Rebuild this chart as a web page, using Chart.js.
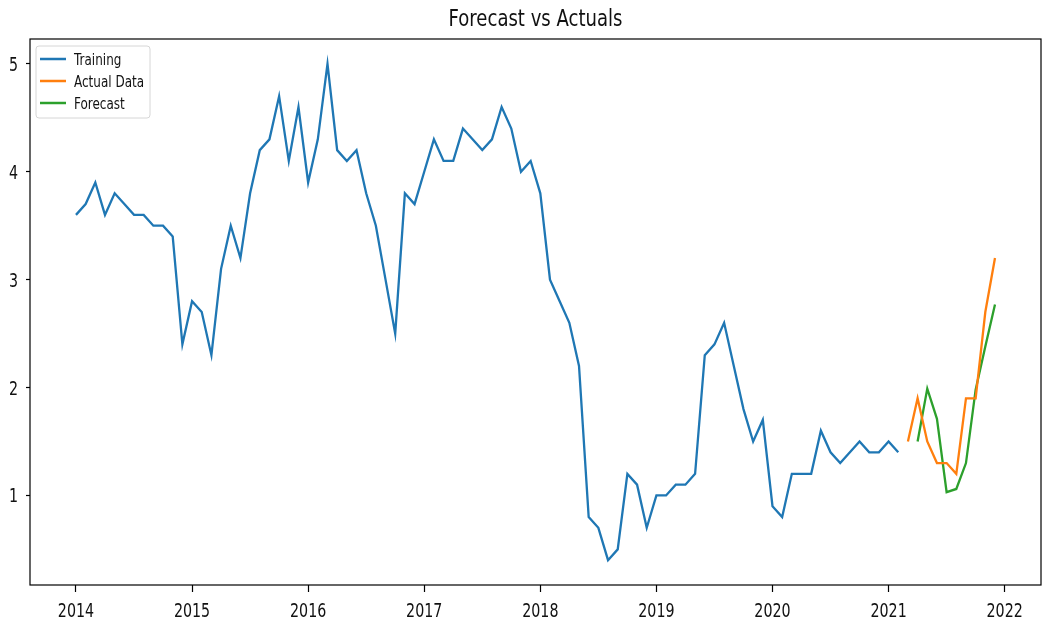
<!DOCTYPE html>
<html>
<head>
<meta charset="utf-8">
<title>Forecast vs Actuals</title>
<script src="https://cdn.jsdelivr.net/npm/chart.js@4.4.1/dist/chart.umd.min.js"></script>
<style>
  html, body { margin: 0; padding: 0; background: #fff; }
  #wrap { width: 1043px; height: 623px; }
</style>
</head>
<body>
<div id="wrap"><canvas id="fc" width="1043" height="623"></canvas></div>
<script>
'use strict';

/* ── Series (monthly values) ─────────────────────────────────────────────── */

// Training: Jan 2014 .. Feb 2021
const TRAIN_START = [2014, 1];
const trainingValues = [
    3.6, 3.7, 3.9, 3.6, 3.8, 3.7, 3.6, 3.6, 3.5, 3.5, 3.4, 2.4,   // 2014
    2.8, 2.7, 2.3, 3.1, 3.5, 3.2, 3.8, 4.2, 4.3, 4.7, 4.1, 4.6,   // 2015
    3.9, 4.3, 5.0, 4.2, 4.1, 4.2, 3.8, 3.5, 3.0, 2.5, 3.8, 3.7,   // 2016
    4.0, 4.3, 4.1, 4.1, 4.4, 4.3, 4.2, 4.3, 4.6, 4.4, 4.0, 4.1,   // 2017
    3.8, 3.0, 2.8, 2.6, 2.2, 0.8, 0.7, 0.4, 0.5, 1.2, 1.1, 0.7,   // 2018
    1.0, 1.0, 1.1, 1.1, 1.2, 2.3, 2.4, 2.6, 2.2, 1.8, 1.5, 1.7,   // 2019
    0.9, 0.8, 1.2, 1.2, 1.2, 1.6, 1.4, 1.3, 1.4, 1.5, 1.4, 1.4,   // 2020
    1.5, 1.4,                                                     // 2021
];

// Actual data: Mar 2021 .. Dec 2021
const ACTUAL_START = [2021, 3];
const actualValues = [1.5, 1.9, 1.5, 1.3, 1.3, 1.2, 1.9, 1.9, 2.7, 3.2];

// Forecast: Apr 2021 .. Dec 2021
const FORECAST_START = [2021, 4];
const forecastValues = [1.50, 1.99, 1.71, 1.03, 1.06, 1.30, 1.98, 2.38, 2.77];

const xTicks = [2014, 2015, 2016, 2017, 2018, 2019, 2020, 2021, 2022];
const yTicks = [1, 2, 3, 4, 5];

const COLORS = { blue: '#1f77b4', orange: '#ff7f0e', green: '#2ca02c' };
const FONT = '"DejaVu Sans", sans-serif';
const SQUEEZE = 0.75;   // text is drawn narrow, as in the saved figure

/* ── Helpers ─────────────────────────────────────────────────────────────── */

// month index -> fractional year, so the x axis can stay linear
function toPoints(start, values) {
    return values.map((v, i) => ({ x: start[0] + (start[1] - 1 + i) / 12, y: v }));
}

function narrowText(ctx, text, x, y, size, align, sx) {
    ctx.save();
    ctx.translate(x, y);
    ctx.scale(sx || SQUEEZE, 1);
    ctx.font = size + 'px ' + FONT;
    ctx.textAlign = align;
    ctx.textBaseline = 'alphabetic';
    ctx.fillText(text, 0, 0);
    ctx.restore();
}

/* ── Plugins: frame, tick labels, title, legend ──────────────────────────── */

const framePlugin = {
    id: 'frame',
    afterDraw(chart) {
        const { ctx, chartArea: a } = chart;
        ctx.save();
        ctx.strokeStyle = '#000';
        ctx.lineWidth = 1.2;
        ctx.strokeRect(a.left, a.top, a.right - a.left, a.bottom - a.top);
        ctx.restore();
    },
};

const tickLabelPlugin = {
    id: 'tickLabels',
    afterDraw(chart) {
        const { ctx, scales } = chart;
        ctx.save();
        ctx.fillStyle = '#111';
        xTicks.forEach(v => {
            narrowText(ctx, String(v), scales.x.getPixelForValue(v), 617, 19, 'center');
        });
        yTicks.forEach(v => {
            narrowText(ctx, String(v), 18, scales.y.getPixelForValue(v) + 7, 19, 'right');
        });
        ctx.restore();
    },
};

const titlePlugin = {
    id: 'axesTitle',
    afterDraw(chart) {
        const { ctx, chartArea: a } = chart;
        ctx.save();
        ctx.fillStyle = '#111';
        narrowText(ctx, 'Forecast vs Actuals', (a.left + a.right) / 2, 26, 23, 'center', 0.785);
        ctx.restore();
    },
};

const legendPlugin = {
    id: 'boxLegend',
    afterDraw(chart) {
        const { ctx, chartArea: a } = chart;
        const x = a.left + 6, y = a.top + 7, w = 114, h = 72;
        ctx.save();
        ctx.beginPath();
        ctx.roundRect(x, y, w, h, 3);
        ctx.fillStyle = 'rgba(255,255,255,0.8)';
        ctx.fill();
        ctx.strokeStyle = '#d6d6d6';
        ctx.lineWidth = 1;
        ctx.stroke();

        chart.data.datasets.forEach((ds, i) => {
            const ry = y + 13 + i * 22;
            ctx.beginPath();
            ctx.moveTo(x + 4, ry);
            ctx.lineTo(x + 30, ry);
            ctx.strokeStyle = ds.borderColor;
            ctx.lineWidth = 2.5;
            ctx.stroke();
            ctx.fillStyle = '#111';
            narrowText(ctx, ds.label, x + 38, ry + 6, 16, 'left');
        });
        ctx.restore();
    },
};

/* ── Chart ───────────────────────────────────────────────────────────────── */

function initForecastChart() {
    const lineStyle = { borderWidth: 2.3, pointRadius: 0, tension: 0, fill: false };

    new Chart(document.getElementById('fc').getContext('2d'), {
        type: 'line',
        data: {
            datasets: [
                { label: 'Training', data: toPoints(TRAIN_START, trainingValues), borderColor: COLORS.blue, ...lineStyle },
                { label: 'Actual Data', data: toPoints(ACTUAL_START, actualValues), borderColor: COLORS.orange, ...lineStyle },
                { label: 'Forecast', data: toPoints(FORECAST_START, forecastValues), borderColor: COLORS.green, ...lineStyle },
            ],
        },
        options: {
            responsive: false,
            animation: false,
            layout: { padding: { top: 39, right: 2, left: 0, bottom: 0 } },
            plugins: {
                legend: { display: false },
                title: { display: false },
                tooltip: { enabled: false },
            },
            scales: {
                x: {
                    type: 'linear',
                    min: 2013.604,
                    max: 2022.313,
                    afterBuildTicks: s => { s.ticks = xTicks.map(v => ({ value: v })); },
                    afterFit: s => { s.height = 38; },
                    grid: { display: true, drawOnChartArea: false, color: '#000', tickLength: 7, tickWidth: 1.2 },
                    border: { display: false },
                    ticks: { display: false },
                },
                y: {
                    min: 0.17,
                    max: 5.23,
                    afterBuildTicks: s => { s.ticks = yTicks.map(v => ({ value: v })); },
                    afterFit: s => { s.width = 30; },
                    grid: { display: true, drawOnChartArea: false, color: '#000', tickLength: 4, tickWidth: 1.2 },
                    border: { display: false },
                    ticks: { display: false },
                },
            },
        },
        plugins: [framePlugin, tickLabelPlugin, titlePlugin, legendPlugin],
    });
}

initForecastChart();
</script>
</body>
</html>
